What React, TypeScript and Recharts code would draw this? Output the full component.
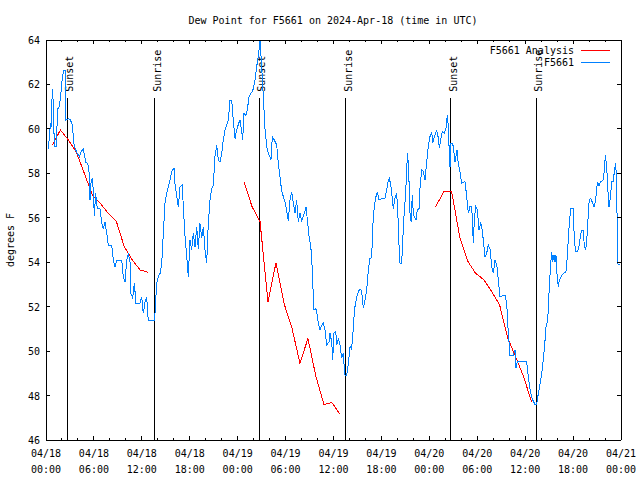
import { LineChart, Line, XAxis, YAxis, ReferenceLine } from 'recharts';

const FONT = '"DejaVu Sans Mono", "Liberation Mono", monospace';

// hours since 04/18 00:00 UTC, dew point in F
const stationPoints: [number, number][] = [
  [0.25, 59.1], [0.44, 59.6], [0.54, 60.25], [0.66, 60.1], [0.79, 61.8], [0.91, 61.2], [1.0, 59.8], [1.13, 59.2],
  [1.34, 59.2], [1.41, 60.85], [1.63, 61.0], [1.79, 61.3], [1.97, 62.05], [2.17, 62.6], [2.38, 62.65], [2.5, 60.4],
  [2.79, 60.45], [3.01, 60.43], [3.29, 60.2], [3.54, 59.2], [3.92, 58.9], [4.17, 58.75], [4.38, 58.97], [4.67, 59.1],
  [4.97, 58.5], [5.22, 58.45], [5.42, 58.0], [5.51, 56.8], [5.63, 57.55], [5.8, 57.8], [5.92, 57.2], [6.05, 56.1],
  [6.22, 57.1], [6.42, 56.4], [6.76, 56.4], [6.97, 55.8], [7.18, 55.5], [7.39, 55.8], [7.73, 55.0], [7.8, 54.75],
  [8.23, 54.75], [8.43, 54.1], [8.64, 53.8], [8.85, 54.1], [9.48, 54.1], [9.68, 53.35], [9.89, 53.1], [10.11, 54.1],
  [10.31, 54.4], [10.52, 54.0], [10.61, 52.6], [10.86, 52.4], [11.06, 53.05], [11.27, 52.15], [11.77, 52.15], [11.98, 52.45],
  [12.18, 51.7], [12.4, 52.2], [12.61, 52.45], [12.73, 51.7], [12.81, 51.4], [13.56, 51.4], [13.65, 51.7], [13.86, 53.05],
  [14.06, 53.35], [14.28, 53.5], [14.49, 53.95], [14.69, 55.3], [14.9, 56.65], [15.11, 57.1], [15.31, 57.4], [15.53, 57.7],
  [15.74, 58.08], [16.03, 58.23], [16.15, 57.55], [16.37, 56.95], [16.57, 56.5], [16.78, 57.4], [17.07, 57.47], [17.19, 56.5],
  [17.41, 55.15], [17.62, 54.25], [17.82, 53.35], [18.03, 55.0], [18.24, 54.55], [18.44, 55.3], [18.66, 54.7], [18.87, 55.6],
  [19.07, 54.6], [19.28, 55.75], [19.5, 55.1], [19.7, 55.6], [19.91, 54.55], [20.12, 53.95], [20.32, 55.75], [20.54, 56.8],
  [20.75, 57.33], [20.95, 57.47], [21.16, 58.75], [21.37, 59.27], [21.58, 58.6], [21.79, 58.5], [22.0, 58.9], [22.2, 59.5],
  [22.41, 59.95], [22.63, 60.17], [22.83, 60.4], [23.04, 61.3], [23.25, 61.3], [23.45, 60.4], [23.67, 59.57], [23.88, 59.95],
  [24.08, 60.2], [24.29, 60.4], [24.46, 60.0], [24.63, 59.5], [24.79, 60.7], [25.01, 60.6], [25.21, 60.85], [25.42, 61.45],
  [25.67, 61.6], [25.88, 61.7], [26.17, 62.2], [26.38, 62.8], [26.58, 63.25], [26.8, 64.0], [27.01, 62.8], [27.21, 61.45],
  [27.42, 60.0], [27.64, 59.2], [27.84, 58.9], [28.05, 58.75], [28.17, 58.6], [28.34, 59.65], [28.59, 59.5], [28.89, 59.27],
  [29.09, 58.45], [29.3, 57.85], [29.51, 57.2], [29.93, 56.7], [30.14, 56.3], [30.34, 55.85], [30.55, 56.8], [30.77, 57.17],
  [30.97, 56.65], [31.18, 56.2], [31.39, 56.8], [31.59, 55.83], [31.81, 56.2], [32.02, 55.83], [32.22, 56.1], [32.43, 56.3],
  [32.56, 56.5], [32.77, 55.75], [32.93, 55.2], [33.15, 54.7], [33.27, 54.25], [33.4, 53.05], [33.56, 51.85], [33.77, 51.93],
  [33.93, 51.7], [34.1, 51.25], [34.31, 50.95], [34.52, 51.17], [34.72, 51.25], [34.94, 50.95], [35.15, 50.27], [35.44, 50.42],
  [35.56, 50.8], [35.78, 50.4], [35.9, 49.6], [36.06, 50.8], [36.28, 50.88], [36.4, 50.27], [36.6, 50.57], [36.81, 50.27],
  [37.03, 49.7], [37.23, 49.9], [37.35, 49.22], [37.44, 48.92], [37.65, 48.92], [37.85, 49.4], [38.07, 50.2], [38.25, 50.1],
  [38.4, 50.6], [38.57, 51.55], [38.69, 52.0], [38.91, 52.45], [39.11, 52.67], [39.32, 52.8], [39.53, 52.7], [39.73, 51.93],
  [39.94, 52.3], [40.16, 52.75], [40.36, 53.65], [40.57, 54.17], [40.78, 54.2], [40.91, 55.6], [41.11, 56.5], [41.32, 56.95],
  [41.49, 57.17], [41.7, 56.8], [42.11, 56.87], [42.45, 56.87], [42.66, 57.25], [42.86, 57.7], [42.99, 57.77], [43.16, 57.5],
  [43.29, 57.1], [43.49, 56.42], [43.7, 56.87], [43.91, 57.1], [44.04, 56.35], [44.2, 54.77], [44.33, 53.95], [44.54, 53.95],
  [44.67, 55.0], [44.87, 56.35], [45.04, 57.1], [45.17, 58.3], [45.29, 58.9], [45.45, 57.7], [45.58, 56.2], [45.71, 55.83],
  [45.87, 57.02], [45.99, 56.2], [46.17, 56.0], [46.33, 55.9], [46.49, 56.35], [46.71, 56.42], [46.83, 57.33], [47.04, 58.15],
  [47.25, 58.08], [47.46, 57.7], [47.67, 58.52], [47.87, 59.2], [48.08, 59.65], [48.3, 59.87], [48.42, 59.35], [48.62, 59.65],
  [48.8, 59.8], [48.92, 59.95], [49.12, 59.6], [49.25, 59.13], [49.42, 59.5], [49.62, 59.87], [49.87, 59.8], [50.09, 60.03],
  [50.25, 60.63], [50.38, 60.1], [50.5, 58.9], [50.59, 58.3], [50.71, 59.35], [50.93, 59.35], [51.09, 58.9], [51.21, 58.5],
  [51.47, 59.05], [51.63, 58.4], [51.84, 58.08], [52.05, 57.55], [52.25, 57.6], [52.47, 57.62], [52.68, 56.95], [52.88, 56.2],
  [53.09, 56.5], [53.31, 56.5], [53.51, 54.85], [53.63, 55.9], [53.81, 56.5], [54.01, 56.35], [54.22, 55.45], [54.43, 55.75],
  [54.56, 55.6], [54.76, 55.0], [54.97, 54.25], [55.18, 54.4], [55.38, 54.77], [55.6, 54.6], [55.81, 53.8], [56.01, 53.5],
  [56.22, 54.1], [56.44, 53.9], [56.64, 53.2], [56.85, 52.45], [57.48, 52.52], [57.69, 52.15], [57.89, 50.8], [58.1, 49.82],
  [58.51, 49.82], [58.73, 50.05], [58.85, 49.22], [59.02, 49.52], [60.19, 49.52], [60.39, 48.85], [60.61, 48.3], [60.82, 47.9],
  [61.02, 47.75], [61.23, 47.6], [61.44, 47.6], [61.65, 48.1], [61.86, 48.5], [62.07, 49.0], [62.27, 49.6], [62.49, 50.5],
  [62.61, 51.1], [62.77, 51.3], [62.9, 51.85], [63.02, 52.9], [63.2, 53.95], [63.32, 54.47], [63.45, 54.02], [63.61, 54.32],
  [63.74, 54.0], [63.86, 54.3], [64.02, 53.27], [64.15, 52.9], [64.28, 53.2], [64.49, 53.35], [64.78, 53.5], [65.11, 53.57],
  [65.27, 54.25], [65.45, 55.37], [65.61, 56.05], [65.74, 56.42], [66.03, 56.42], [66.15, 55.0], [66.33, 54.47], [66.53, 54.47],
  [66.74, 54.7], [66.87, 55.07], [67.08, 55.45], [67.28, 55.45], [67.41, 54.7], [67.58, 54.55], [67.71, 55.0], [67.83, 55.6],
  [67.91, 56.28], [68.03, 56.8], [68.21, 56.87], [68.41, 56.7], [68.62, 56.5], [68.83, 56.8], [68.96, 57.33], [69.08, 57.62],
  [69.25, 57.45], [69.46, 57.62], [69.79, 57.7], [69.91, 58.15], [70.04, 58.82], [70.21, 58.3], [70.34, 57.33], [70.5, 56.5],
  [70.66, 56.9], [70.84, 57.62], [71.04, 57.62], [71.16, 58.08], [71.34, 58.45], [71.46, 57.4], [71.54, 55.07], [71.63, 53.9],
  [71.88, 53.9],
];

// hourly analysis, three 12 hour runs (null = gap)
const analysisTimes = [
  0.8, 1.8, 2.8, 3.8, 4.8, 5.8, 6.8, 7.8, 8.8, 9.8, 10.8, 11.8, 12.8, 18,
  24.8, 25.8, 26.8, 27.8, 28.8, 29.8, 30.8, 31.8, 32.8, 33.8, 34.8, 35.8, 36.8, 42,
  48.8, 49.8, 50.8, 51.8, 52.8, 53.8, 54.8, 55.8, 56.8, 57.8, 58.8, 59.8, 60.8,
];
const analysisValues = [
  59.27, 59.95, 59.5, 58.95, 58.0, 57.02, 56.65, 56.2, 55.85, 54.7, 54.1, 53.65, 53.55, null,
  57.62, 56.5, 55.83, 52.22, 53.98, 52.15, 51.03, 49.45, 50.57, 48.85, 47.6, 47.68, 47.17, null,
  56.5, 57.17, 57.17, 55.15, 54.05, 53.5, 53.22, 52.68, 52.08, 50.6, 49.75, 48.85, 47.72,
];

const sunTimes = [2.67, 13.59, 26.71, 37.53, 50.68, 61.42];
const sunLabels = ['Sunset', 'Sunrise', 'Sunset', 'Sunrise', 'Sunset', 'Sunrise'];

const minorTicks = [0, 2, 4, 6, 8, 10, 12, 14, 16, 18, 20, 22, 24, 26, 28, 30, 32, 34, 36, 38, 40, 42, 44, 46, 48, 50, 52, 54, 56, 58, 60, 62, 64, 66, 68, 70, 72];
const majorTicks = [0, 6, 12, 18, 24, 30, 36, 42, 48, 54, 60, 66, 72];
const dayLabels = ['04/18', '04/18', '04/18', '04/18', '04/19', '04/19', '04/19', '04/19', '04/20', '04/20', '04/20', '04/20', '04/21'];
const timeLabels = ['00:00', '06:00', '12:00', '18:00', '00:00', '06:00', '12:00', '18:00', '00:00', '06:00', '12:00', '18:00', '00:00'];
const yTicks = [46, 48, 50, 52, 54, 56, 58, 60, 62, 64];

const stationData = stationPoints.map(([t, v]) => ({ t, v }));
const analysisData = analysisTimes.map((t, i) => ({ t, v: analysisValues[i] }));

const textStyle = { fontFamily: FONT, fontSize: 10, fill: '#000' };

function BottomTick(props: any) {
  const { x, y, payload } = props;
  const i = majorTicks.indexOf(payload.value);
  return (
    <g>
      <line x1={x} x2={x} y1={y} y2={y - (i >= 0 ? 4 : 2)} stroke="#000" />
      {i >= 0 && (
        <text x={x} y={y + 17} textAnchor="middle" style={textStyle}>{dayLabels[i]}</text>
      )}
      {i >= 0 && (
        <text x={x} y={y + 33} textAnchor="middle" style={textStyle}>{timeLabels[i]}</text>
      )}
    </g>
  );
}

function TopTick(props: any) {
  const { x, y, payload } = props;
  const major = majorTicks.includes(payload.value);
  return <line x1={x} x2={x} y1={y} y2={y + (major ? 4 : 2)} stroke="#000" />;
}

function LeftTick(props: any) {
  const { x, y, payload } = props;
  return (
    <g>
      <line x1={x} x2={x + 4} y1={y} y2={y} stroke="#000" />
      <text x={x - 6} y={y + 4} textAnchor="end" style={textStyle}>{payload.value}</text>
    </g>
  );
}

function RightTick(props: any) {
  const { x, y } = props;
  return <line x1={x} x2={x - 4} y1={y} y2={y} stroke="#000" />;
}

function sunLabel(text: string) {
  return (p: any) => {
    const vb = p.viewBox || {};
    const lx = vb.x + 6;
    const ly = vb.y - 6;
    return (
      <text x={lx} y={ly} transform={`rotate(-90 ${lx} ${ly})`} textAnchor="start" style={textStyle}>
        {text}
      </text>
    );
  };
}

export default function App() {
  return (
    <div style={{ position: 'absolute', left: 0, top: 0, width: 640, height: 480, background: '#fff', shapeRendering: 'crispEdges' }}>
      <LineChart width={640} height={480} margin={{ top: 0, right: 0, bottom: 0, left: 0 }}>
        <XAxis
          xAxisId="bottom"
          dataKey="t"
          type="number"
          domain={[0, 72]}
          ticks={minorTicks}
          interval={0}
          height={40}
          tickSize={0}
          tickMargin={0}
          tickLine={false}
          axisLine={{ stroke: '#000' }}
          tick={<BottomTick />}
          allowDataOverflow
        />
        <XAxis
          xAxisId="top"
          orientation="top"
          dataKey="t"
          type="number"
          domain={[0, 72]}
          ticks={minorTicks}
          interval={0}
          height={40}
          tickSize={0}
          tickMargin={0}
          tickLine={false}
          axisLine={{ stroke: '#000' }}
          tick={<TopTick />}
          allowDataOverflow
        />
        <YAxis
          yAxisId="left"
          type="number"
          domain={[46, 64]}
          ticks={yTicks}
          interval={0}
          width={46}
          tickSize={0}
          tickMargin={0}
          tickLine={false}
          axisLine={{ stroke: '#000' }}
          tick={<LeftTick />}
          allowDataOverflow
        />
        <YAxis
          yAxisId="right"
          orientation="right"
          type="number"
          domain={[46, 64]}
          ticks={yTicks}
          interval={0}
          width={19}
          tickSize={0}
          tickMargin={0}
          tickLine={false}
          axisLine={{ stroke: '#000' }}
          tick={<RightTick />}
          allowDataOverflow
        />
        {sunTimes.map((t, i) => (
          <ReferenceLine
            key={i}
            xAxisId="bottom"
            yAxisId="left"
            segment={[{ x: t, y: 61.4 }, { x: t, y: 46 }]}
            stroke="#000"
            strokeWidth={1}
            label={sunLabel(sunLabels[i])}
          />
        ))}
        <Line
          data={analysisData}
          xAxisId="bottom"
          yAxisId="left"
          dataKey="v"
          type="linear"
          stroke="#ff0000"
          strokeWidth={1}
          dot={false}
          connectNulls={false}
          isAnimationActive={false}
        />
        <Line
          data={stationData}
          xAxisId="bottom"
          yAxisId="left"
          dataKey="v"
          type="linear"
          stroke="#0080ff"
          strokeWidth={1}
          dot={false}
          isAnimationActive={false}
        />
      </LineChart>
      <svg width={640} height={480} style={{ position: 'absolute', left: 0, top: 0, pointerEvents: 'none' }}>
        <text x={333} y={24} textAnchor="middle" style={textStyle}>Dew Point for F5661 on 2024-Apr-18 (time in UTC)</text>
        <text x={14} y={240} transform="rotate(-90 14 240)" textAnchor="middle" style={textStyle}>degrees F</text>
        <text x={574} y={54} textAnchor="end" style={textStyle}>F5661 Analysis</text>
        <line x1={581} x2={610} y1={50} y2={50} stroke="#ff0000" />
        <text x={574} y={66} textAnchor="end" style={textStyle}>F5661</text>
        <line x1={581} x2={610} y1={62} y2={62} stroke="#0080ff" />
      </svg>
    </div>
  );
}
